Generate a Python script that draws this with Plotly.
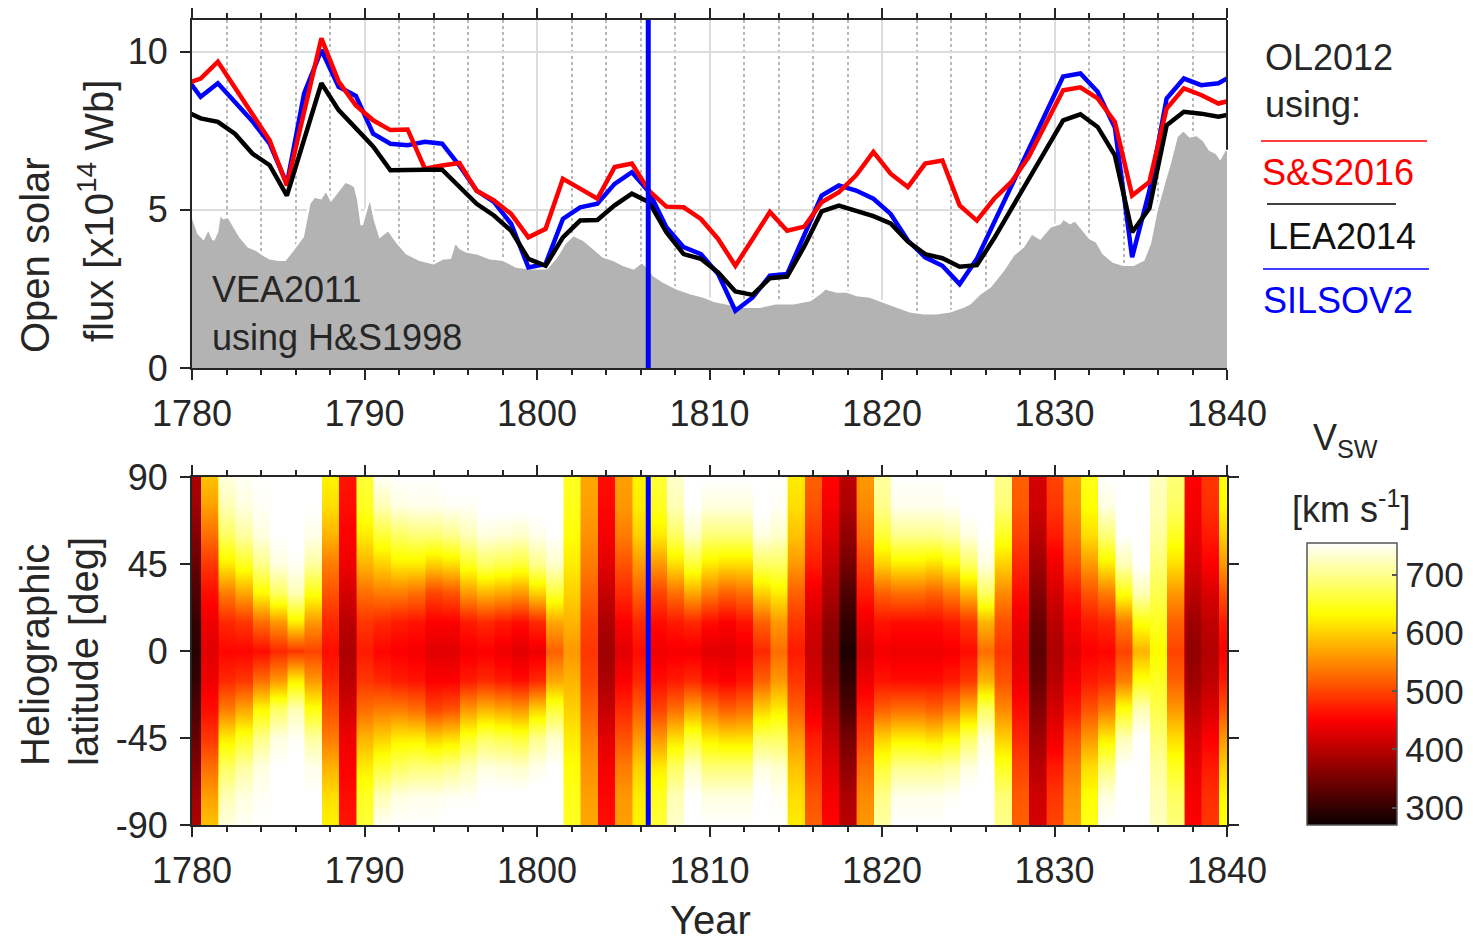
import plotly.graph_objects as go

# ---------------------------------------------------------------
# Open solar flux (OL2012 method) from three sunspot records,
# annual means plotted at mid-year, units of 1e14 Wb
# ---------------------------------------------------------------
flux_years = list(range(1779, 1841))

flux_ss2016 = [8.95, 9.15, 9.68, 8.85, 8.00, 7.20, 5.77, 8.10, 10.42, 9.05,
               8.30, 7.83, 7.52, 7.54, 6.30, 6.40, 6.48, 5.60, 5.30, 4.87,
               4.13, 4.40, 5.98, 5.67, 5.35, 6.35, 6.46, 5.60, 5.10, 5.08,
               4.71, 4.08, 3.23, 4.08, 4.93, 4.34, 4.47, 5.24, 5.56, 6.09,
               6.83, 6.14, 5.72, 6.46, 6.56, 5.14, 4.66, 5.35, 5.88, 6.67,
               7.73, 8.78, 8.87, 8.52, 7.78, 5.45, 5.88, 8.20, 8.84, 8.63,
               8.36, 8.50]

flux_lea2014 = [8.15, 7.89, 7.78, 7.40, 6.78, 6.41, 5.45, 7.20, 9.00, 8.15,
                7.57, 7.00, 6.25, 6.27, 6.27, 6.27, 5.72, 5.19, 4.82, 4.34,
                3.45, 3.23, 4.13, 4.66, 4.68, 5.14, 5.51, 5.24, 4.29, 3.60,
                3.45, 3.02, 2.42, 2.31, 2.84, 2.89, 3.85, 4.95, 5.13, 4.97,
                4.80, 4.57, 4.00, 3.60, 3.47, 3.20, 3.25, 4.10, 5.05, 6.00,
                6.90, 7.83, 8.02, 7.62, 6.72, 4.29, 5.05, 7.67, 8.10, 8.04,
                7.94, 8.05]

flux_silsov2 = [9.30, 8.57, 9.00, 8.40, 7.80, 7.09, 5.82, 8.68, 10.05, 8.89,
                8.60, 7.41, 7.09, 7.04, 7.15, 7.09, 6.40, 5.61, 5.25, 4.56,
                3.18, 3.29, 4.71, 5.08, 5.19, 5.82, 6.19, 5.56, 4.45, 3.82,
                3.60, 2.97, 1.81, 2.23, 2.92, 2.97, 4.20, 5.45, 5.77, 5.61,
                5.35, 4.87, 4.03, 3.50, 3.23, 2.65, 3.45, 4.60, 5.75, 6.90,
                8.05, 9.21, 9.31, 8.73, 7.60, 3.50, 5.60, 8.52, 9.15, 8.94,
                9.00, 9.30]

# VEA2011 open solar flux from the H&S1998 group sunspot number
vea_year = [1780.00, 1780.37, 1780.66, 1780.95, 1781.24, 1781.45, 1781.62,
            1781.82, 1782.10, 1782.40, 1782.78, 1783.27, 1783.75, 1784.10,
            1784.52, 1785.00, 1785.39, 1785.84, 1786.42, 1786.80, 1787.09,
            1787.47, 1787.77, 1788.06, 1788.35, 1788.87, 1789.16, 1789.45,
            1789.64, 1789.84, 1790.03, 1790.32, 1790.61, 1790.90, 1791.38,
            1791.86, 1792.44, 1793.21, 1794.00, 1794.57, 1794.96, 1795.25,
            1795.54, 1795.93, 1796.50, 1797.28, 1798.05, 1798.80, 1799.60,
            1800.56, 1801.14, 1801.60, 1802.10, 1802.70, 1803.27, 1803.85,
            1804.43, 1805.00, 1805.60, 1806.07, 1806.40, 1806.75, 1807.33,
            1808.10, 1808.87, 1809.65, 1810.32, 1811.00, 1811.96, 1812.93,
            1813.90, 1814.86, 1815.83, 1816.41, 1816.70, 1817.37, 1817.95,
            1818.53, 1819.30, 1820.08, 1820.85, 1821.62, 1822.40, 1823.17,
            1823.94, 1824.72, 1825.10, 1825.68, 1826.26, 1827.03, 1827.61,
            1828.19, 1828.67, 1829.16, 1829.74, 1830.32, 1830.51, 1830.90,
            1831.19, 1831.57, 1832.06, 1832.44, 1832.83, 1833.41, 1833.99,
            1834.57, 1835.15, 1835.53, 1835.92, 1836.40, 1836.69, 1837.08,
            1837.47, 1837.85, 1838.24, 1838.63, 1839.01, 1839.40, 1839.60,
            1839.88, 1840.10]
vea_flux = [4.84, 4.26, 4.10, 4.42, 4.05, 4.30, 4.89,
            4.74, 4.79, 4.52, 4.16, 3.84, 3.73, 3.60,
            3.47, 3.42, 3.42, 3.73, 4.16, 5.21, 5.42,
            5.37, 5.63, 5.32, 5.53, 5.89, 5.84, 5.74,
            5.32, 4.52, 4.89, 5.42, 4.68, 4.16, 4.37,
            4.00, 3.63, 3.42, 3.31, 3.47, 3.48, 4.00,
            3.79, 3.68, 3.63, 3.47, 3.42, 3.21, 3.15,
            3.15, 3.52, 3.94, 4.21, 4.05, 3.79, 3.52,
            3.42, 3.26, 3.15, 3.36, 3.20, 2.94, 2.73,
            2.52, 2.37, 2.26, 2.12, 2.05, 1.94, 1.94,
            2.05, 2.05, 2.15, 2.37, 2.52, 2.42, 2.42,
            2.31, 2.26, 2.10, 1.94, 1.79, 1.73, 1.73,
            1.79, 1.94, 2.05, 2.36, 2.57, 3.10, 3.58,
            3.84, 4.26, 4.10, 4.47, 4.58, 4.73, 4.58,
            4.68, 4.42, 4.10, 4.00, 3.63, 3.36, 3.26,
            3.26, 3.42, 3.94, 5.00, 5.95, 6.48, 7.32,
            7.53, 7.32, 7.37, 7.21, 6.90, 6.79, 6.63,
            6.90, 6.90]

# ---------------------------------------------------------------
# Solar wind speed (km/s) per year at |heliographic latitude|
# ---------------------------------------------------------------
vsw_years = list(range(1780, 1841))
vsw_abs_lat = [0, 15, 30, 45, 60, 75, 90]

vsw_lat0 = [290, 430, 455, 455, 460, 480, 490, 500, 460, 390,
            470, 455, 450, 445, 430, 430, 445, 450, 440, 430,
            440, 520, 560, 490, 380, 430, 460, 440, 445, 445,
            430, 430, 440, 480, 530, 470, 410, 360, 285, 420,
            445, 440, 440, 440, 445, 460, 530, 490, 430, 330,
            390, 430, 450, 455, 500, 580, 630, 500, 370, 395,
            450]
vsw_lat15 = [300, 440, 480, 490, 530, 560, 620, 560, 480, 400,
             490, 480, 470, 465, 450, 450, 470, 480, 470, 460,
             480, 570, 580, 500, 390, 450, 480, 460, 470, 480,
             460, 450, 465, 520, 560, 490, 420, 370, 300, 440,
             465, 460, 460, 460, 470, 490, 580, 510, 440, 340,
             400, 445, 470, 480, 540, 640, 650, 520, 380, 405,
             470]
vsw_lat30 = [320, 460, 540, 570, 630, 680, 720, 640, 510, 420,
             530, 540, 540, 530, 500, 510, 560, 580, 570, 560,
             600, 660, 600, 520, 410, 480, 520, 500, 530, 570,
             540, 520, 530, 600, 620, 520, 440, 390, 320, 470,
             520, 530, 530, 520, 540, 580, 680, 550, 460, 360,
             420, 470, 510, 540, 640, 720, 670, 560, 400, 425,
             510]
vsw_lat45 = [340, 490, 620, 650, 700, 740, 750, 710, 540, 440,
             580, 600, 620, 620, 600, 610, 650, 680, 670, 660,
             700, 730, 620, 540, 430, 510, 560, 560, 610, 660,
             620, 610, 610, 680, 680, 560, 470, 410, 350, 500,
             600, 620, 620, 610, 630, 680, 740, 600, 480, 380,
             440, 510, 560, 620, 720, 755, 690, 610, 420, 450,
             560]
vsw_lat60 = [360, 530, 680, 710, 740, 755, 760, 745, 580, 450,
             620, 660, 680, 690, 690, 700, 720, 740, 735, 730,
             745, 755, 635, 555, 445, 540, 600, 620, 680, 730,
             690, 690, 690, 740, 730, 590, 490, 430, 370, 530,
             660, 700, 700, 700, 710, 740, 755, 650, 500, 400,
             470, 540, 610, 690, 755, 760, 710, 650, 435, 470,
             600]
vsw_lat75 = [380, 565, 720, 740, 750, 760, 760, 755, 610, 460,
             650, 720, 740, 745, 745, 750, 750, 760, 760, 760,
             760, 760, 645, 565, 455, 560, 620, 650, 720, 755,
             740, 740, 740, 760, 750, 610, 510, 445, 390, 550,
             700, 745, 745, 745, 750, 760, 760, 690, 515, 415,
             490, 560, 635, 740, 760, 760, 720, 680, 445, 485,
             630]
vsw_lat90 = [390, 590, 740, 750, 755, 760, 760, 760, 625, 465,
             660, 750, 755, 755, 755, 760, 760, 760, 760, 760,
             760, 760, 650, 570, 460, 565, 625, 660, 730, 760,
             755, 755, 755, 760, 755, 620, 520, 455, 400, 560,
             710, 755, 755, 755, 760, 760, 760, 700, 520, 420,
             500, 570, 645, 755, 760, 760, 725, 690, 450, 490,
             640]

lat_ticks = [-90, -45, 0, 45, 90]
lat_tick_text = ["-90", "-45", "0", "45", "90"]

# date marked by the vertical line in both panels
marker_year = 1806.45

# ---------------------------------------------------------------
# styling
# ---------------------------------------------------------------
FONT = "Liberation Sans, Arial, Helvetica, sans-serif"
TXT = "#262626"
AX = "#262626"
W, H = 1473, 943
FLUX_TOP = 11

def px_x(p):
    return p / W

def px_y(p):
    return 1 - p / H

# MATLAB-style "hot" map
hot = [[0.0, "rgb(11,0,0)"], [0.375, "rgb(255,0,0)"],
       [0.75, "rgb(255,255,0)"], [1.0, "rgb(255,255,255)"]]

fig = go.Figure()

# --- top panel -------------------------------------------------
fig.add_trace(go.Scatter(
    x=vea_year, y=vea_flux, mode="lines", fill="tozeroy",
    fillcolor="rgb(179,179,179)", line=dict(color="white", width=2.5),
    xaxis="x", yaxis="y", showlegend=False, hoverinfo="skip"))

flux_mid = [yr + 0.5 for yr in flux_years]
for series, colour in ((flux_silsov2, "#0000ff"),
                       (flux_ss2016, "#ff0000"),
                       (flux_lea2014, "#000000")):
    fig.add_trace(go.Scatter(
        x=flux_mid, y=series, mode="lines",
        line=dict(color=colour, width=4.5),
        xaxis="x", yaxis="y", showlegend=False))

# --- bottom panel: latitude/time map of solar wind speed --------
bands = dict(zip(vsw_abs_lat, [vsw_lat0, vsw_lat15, vsw_lat30, vsw_lat45,
                               vsw_lat60, vsw_lat75, vsw_lat90]))
lat_rows = [-90, -75, -60, -45, -30, -15, 0, 15, 30, 45, 60, 75, 90]

# each year is a flat block in time, smooth in latitude
x_cells = []
for yr in vsw_years:
    x_cells += [yr - 0.45, yr + 0.45]
z = []
for lat in lat_rows:
    row = []
    for v in bands[abs(lat)]:
        row += [v, v]
    z.append(row)

fig.add_trace(go.Heatmap(
    x=x_cells, y=lat_rows, z=z, zsmooth="best",
    colorscale=hot, zmin=270, zmax=755,
    xaxis="x2", yaxis="y2", hoverinfo="skip",
    colorbar=dict(
        x=px_x(1307), xanchor="left", xpad=0,
        y=px_y(684), yanchor="middle", ypad=0,
        len=282 / H, lenmode="fraction",
        thickness=90, thicknessmode="pixels",
        outlinewidth=1.5, outlinecolor="#555",
        ticks="inside", ticklen=5, tickwidth=1.5, tickcolor="#555",
        tickvals=[300, 400, 500, 600, 700],
        tickfont=dict(family=FONT, size=35, color=TXT),
    )))

# vertical marker in both panels
fig.add_trace(go.Scatter(x=[marker_year, marker_year], y=[0, FLUX_TOP],
                         mode="lines", line=dict(color="#0000ff", width=5),
                         xaxis="x", yaxis="y", showlegend=False))
fig.add_trace(go.Scatter(x=[marker_year, marker_year], y=[-90, 90],
                         mode="lines", line=dict(color="#0000ff", width=5),
                         xaxis="x2", yaxis="y2", showlegend=False))

# ---------------------------------------------------------------
# axes
# ---------------------------------------------------------------
xdom = [px_x(192), px_x(1227)]
tickfont = dict(family=FONT, size=36, color=TXT)

common_x = dict(
    domain=xdom, range=[1780, 1840], tick0=1780, dtick=10,
    ticks="outside", ticklen=10, tickwidth=2, tickcolor=AX,
    showline=True, linewidth=2, linecolor=AX, mirror="ticks",
    zeroline=False, tickfont=tickfont, ticklabelstandoff=3,
    automargin=False,
)

fig.update_layout(
    template="none",
    width=W, height=H,
    margin=dict(l=0, r=0, t=0, b=0, autoexpand=False),
    paper_bgcolor="white", plot_bgcolor="white",
    font=dict(family=FONT, color=TXT),
    showlegend=False,
    xaxis=dict(
        **common_x, anchor="y",
        showgrid=True, gridcolor="#dcdcdc", gridwidth=2,
        minor=dict(dtick=2, ticks="outside", ticklen=5, tickwidth=2,
                   tickcolor=AX, showgrid=True, gridcolor="#b8b8b8",
                   griddash="dot", gridwidth=1.5),
    ),
    yaxis=dict(
        domain=[px_y(368), px_y(20)], range=[0, FLUX_TOP], dtick=5,
        anchor="x",
        ticks="outside", ticklen=10, tickwidth=2, tickcolor=AX,
        showline=True, linewidth=2, linecolor=AX, mirror=False,
        showgrid=True, gridcolor="#dcdcdc", gridwidth=2,
        zeroline=False, tickfont=tickfont, ticklabelstandoff=5,
        automargin=False,
    ),
    xaxis2=dict(
        **common_x, anchor="y2", showgrid=False,
        minor=dict(dtick=2, ticks="outside", ticklen=5, tickwidth=2,
                   tickcolor=AX, showgrid=False),
    ),
    yaxis2=dict(
        domain=[px_y(825), px_y(477)], range=[-90, 90], anchor="x2",
        tickvals=lat_ticks, ticktext=lat_tick_text,
        ticks="outside", ticklen=10, tickwidth=2, tickcolor=AX,
        showline=True, linewidth=2, linecolor=AX, mirror="ticks",
        showgrid=False, zeroline=False, tickfont=tickfont,
        ticklabelstandoff=5, automargin=False,
    ),
)

# right-hand frame of the flux panel, visible above the VEA2011 area
fig.add_shape(type="line", xref="x domain", yref="y", x0=1, x1=1,
              y0=vea_flux[-1], y1=FLUX_TOP, line=dict(color=AX, width=2))

# ---------------------------------------------------------------
# text
# ---------------------------------------------------------------
def label(text, x, y, size=36, color=TXT, angle=0, xanchor="center"):
    fig.add_annotation(text=text, x=px_x(x), y=px_y(y), xref="paper",
                       yref="paper", showarrow=False, textangle=angle,
                       xanchor=xanchor, yanchor="middle",
                       font=dict(family=FONT, size=size, color=color))

label("Open solar", 35, 255, size=40, angle=-90)
label("flux [x10<sup>14</sup> Wb]", 96, 211, size=40, angle=-90)
label("Heliographic", 35, 655, size=40, angle=-90)
label("latitude [deg]", 84, 652, size=40, angle=-90)
label("Year", 710, 920, size=40)

label("VEA2011", 210, 289, xanchor="left")
label("using H&S1998", 210, 337, xanchor="left")

label("OL2012", 1263, 58, xanchor="left")
label("using:", 1263, 104, xanchor="left")
label("S&S2016", 1260, 172, color="#ff0000", xanchor="left")
label("LEA2014", 1266, 236, color="#111111", xanchor="left")
label("SILSOV2", 1261, 300, color="#0000ff", xanchor="left")

label("V<sub>SW</sub>", 1345, 440, size=36)
label("[km s<sup>-1</sup>]", 1351, 507, size=36)

# legend keys
for x0, x1, yk, col in ((1261, 1427, 141, "#ff4040"),
                        (1267, 1396, 204, "#404040"),
                        (1263, 1429, 269, "#4040ff")):
    fig.add_shape(type="line", xref="paper", yref="paper",
                  x0=px_x(x0), x1=px_x(x1), y0=px_y(yk), y1=px_y(yk),
                  line=dict(color=col, width=2))

fig.write_html("out.html")
